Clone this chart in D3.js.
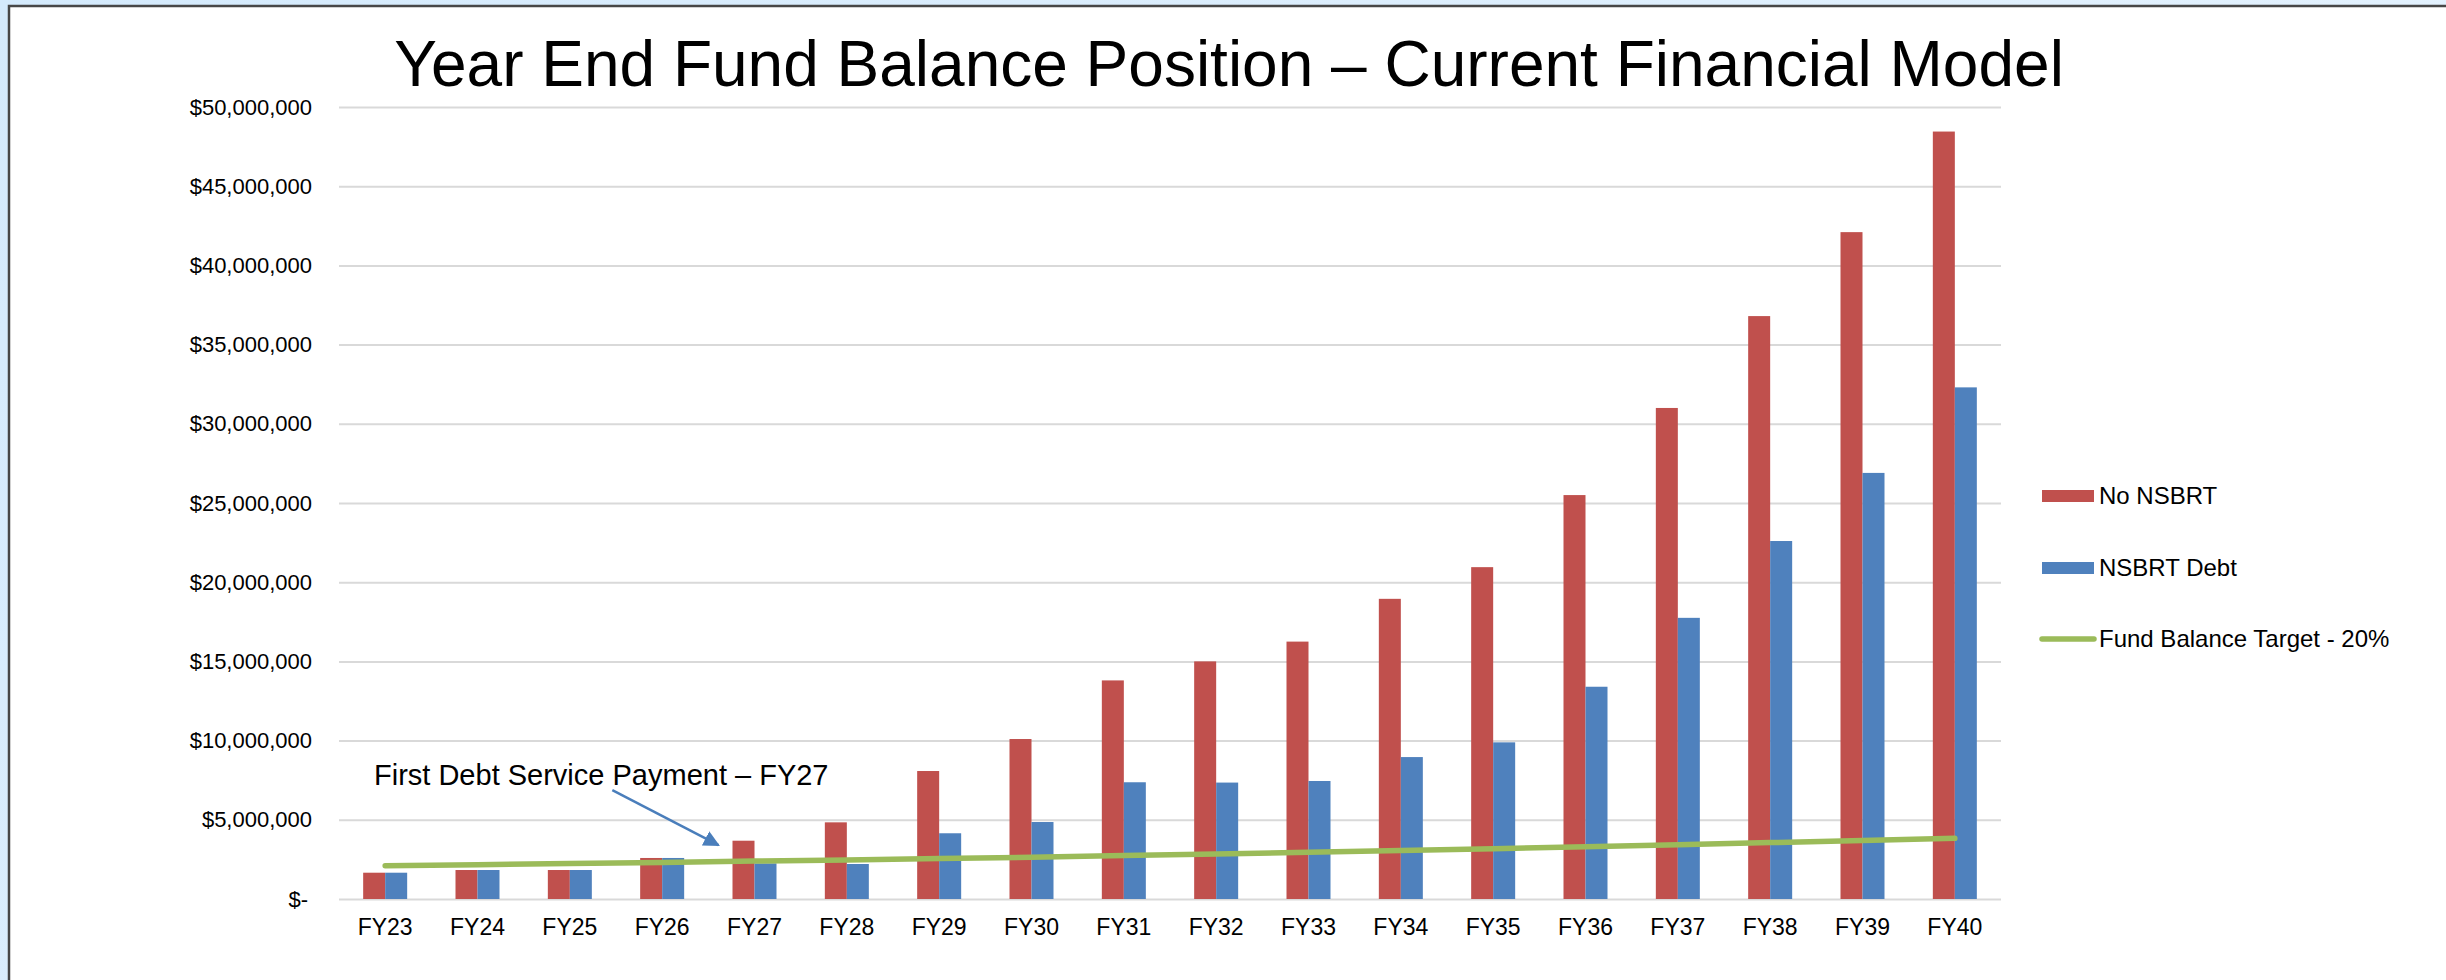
<!DOCTYPE html>
<html>
<head>
<meta charset="utf-8">
<script src="https://cdn.jsdelivr.net/npm/d3@7"></script>
<style>
  html, body { margin: 0; padding: 0; }
  body { width: 2446px; height: 980px; overflow: hidden;
         background: linear-gradient(135deg, #d4eafc, #e8f4fe); }
  svg { display: block; font-family: "Liberation Sans", Arial, sans-serif; }
</style>
</head>
<body>
<script>
// chart values (dollars)
var years = ["FY23", "FY24", "FY25", "FY26", "FY27", "FY28", "FY29", "FY30", "FY31",
             "FY32", "FY33", "FY34", "FY35", "FY36", "FY37", "FY38", "FY39", "FY40"];
var noNsbrt = [1.66, 1.83, 1.83, 2.59, 3.68, 4.84, 8.08, 10.1, 13.8,
               15.0, 16.25, 18.95, 20.95, 25.5, 31.0, 36.8, 42.1, 48.45].map(function(v) { return v * 1e6; });
var nsbrtDebt = [1.66, 1.83, 1.83, 2.59, 2.25, 2.21, 4.15, 4.86, 7.37,
                 7.35, 7.45, 8.96, 9.89, 13.4, 17.75, 22.6, 26.9, 32.3].map(function(v) { return v * 1e6; });
var target = [2.10, 2.17, 2.24, 2.31, 2.40, 2.46, 2.55, 2.64, 2.74,
              2.84, 2.95, 3.06, 3.18, 3.30, 3.43, 3.56, 3.69, 3.83].map(function(v) { return v * 1e6; });
var yTicks = [0, 5e6, 10e6, 15e6, 20e6, 25e6, 30e6, 35e6, 40e6, 45e6, 50e6];

var seriesNames = ["No NSBRT", "NSBRT Debt", "Fund Balance Target - 20%"];
var colors = ["#C0504D", "#4F81BD", "#9BBB59"];

var W = 2446, H = 980;
var margin = { top: 107, right: 445, bottom: 81, left: 339 },
    width = W - margin.left - margin.right,
    height = H - margin.top - margin.bottom;

var svg = d3.select("body").append("svg")
    .attr("width", W)
    .attr("height", H);

// white slide panel with dark edge on top/left
svg.append("rect")
    .attr("x", 9).attr("y", 6)
    .attr("width", W).attr("height", H)
    .attr("fill", "#fff")
    .attr("stroke", "#474747")
    .attr("stroke-width", 2.5);

svg.append("text")
    .attr("x", 1229).attr("y", 86)
    .attr("text-anchor", "middle")
    .style("font-size", "64px")
    .attr("fill", "#000")
    .text("Year End Fund Balance Position \u2013 Current Financial Model");

var g = svg.append("g")
    .attr("transform", "translate(" + margin.left + "," + margin.top + ")");

var x = d3.scaleBand()
    .domain(years)
    .range([0, width]);

var groupW = 44;
var x1 = d3.scaleBand()
    .domain([0, 1])
    .range([(x.bandwidth() - groupW) / 2, (x.bandwidth() + groupW) / 2]);

var y = d3.scaleLinear()
    .domain([0, 50e6])
    .range([height, 0]);

var yAxis = d3.axisLeft(y)
    .tickValues(yTicks)
    .tickSize(-width)
    .tickPadding(27)
    .tickFormat(function(d) { return d === 0 ? "$-" : "$" + d3.format(",")(d); });

var yg = g.append("g").call(yAxis);
yg.select(".domain").remove();
yg.selectAll(".tick line").attr("stroke", "#D9D9D9").attr("stroke-width", 2);
yg.selectAll(".tick text")
    .style("font-size", "22px")
    .attr("fill", "#000")
    .attr("dx", function(d) { return d === 0 ? -4 : 0; });

var xAxis = d3.axisBottom(x).tickSize(0).tickPadding(20);
var xg = g.append("g")
    .attr("transform", "translate(0," + height + ")")
    .call(xAxis);
xg.select(".domain").remove();
xg.selectAll(".tick text").style("font-size", "23px").attr("fill", "#000");

// bars
var barSeries = [noNsbrt, nsbrtDebt];
barSeries.forEach(function(vals, si) {
    g.append("g").selectAll("rect")
        .data(vals)
        .enter().append("rect")
        .attr("x", function(d, i) { return x(years[i]) + x1(si); })
        .attr("width", x1.bandwidth())
        .attr("y", function(d) { return y(d); })
        .attr("height", function(d) { return height - y(d); })
        .attr("fill", colors[si]);
});

// target line
var line = d3.line()
    .x(function(d, i) { return x(years[i]) + x.bandwidth() / 2; })
    .y(function(d) { return y(d); });

g.append("path")
    .datum(target)
    .attr("d", line)
    .attr("fill", "none")
    .attr("stroke", colors[2])
    .attr("stroke-width", 5.5)
    .attr("stroke-linecap", "round");

// annotation
var defs = svg.append("defs");
defs.append("marker")
    .attr("id", "arrow")
    .attr("viewBox", "0 0 10 10")
    .attr("refX", 9).attr("refY", 5)
    .attr("markerWidth", 6.5).attr("markerHeight", 6.5)
    .attr("markerUnits", "strokeWidth")
    .attr("orient", "auto")
    .append("path")
    .attr("d", "M0,0 L10,5 L0,10 Z")
    .attr("fill", "#4A7EBB");

var tipX = x("FY27") + x1(0) - 14, tipY = y(3.4e6);
g.append("line")
    .attr("x1", x("FY25") + x.bandwidth() * 0.96).attr("y1", y(6.88e6))
    .attr("x2", tipX).attr("y2", tipY)
    .attr("stroke", "#4A7EBB")
    .attr("stroke-width", 2.5)
    .attr("marker-end", "url(#arrow)");

g.append("text")
    .attr("x", x("FY23") + 35).attr("y", y(7.2e6))
    .style("font-size", "29px")
    .attr("fill", "#000")
    .text("First Debt Service Payment \u2013 FY27");

// legend
var legend = svg.append("g").attr("transform", "translate(2042,0)");
var legY = [496, 568, 639];
seriesNames.forEach(function(name, i) {
    var row = legend.append("g").attr("transform", "translate(0," + legY[i] + ")");
    if (i < 2) {
        row.append("rect")
            .attr("x", 0).attr("y", -6)
            .attr("width", 52).attr("height", 12)
            .attr("fill", colors[i]);
    } else {
        row.append("line")
            .attr("x1", 0).attr("x2", 52)
            .attr("stroke", colors[i])
            .attr("stroke-width", 5.5)
            .attr("stroke-linecap", "round");
    }
    row.append("text")
        .attr("x", 57).attr("y", 0)
        .attr("dy", "0.35em")
        .style("font-size", "24px")
        .attr("fill", "#000")
        .text(name);
});
</script>
</body>
</html>
